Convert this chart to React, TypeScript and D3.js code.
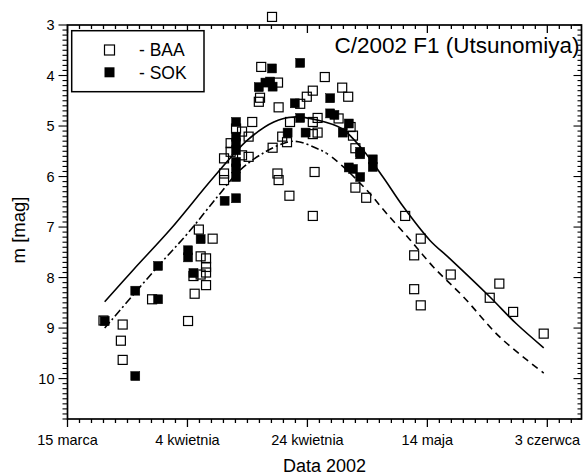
import React from 'react';
import * as d3 from 'd3';

// ---- data (day offset from 15 March 2002, magnitude) ----
const baaDays = [6.0, 9.2, 8.9, 9.2, 14.1, 20.1, 21.0, 21.2, 22.2, 22.2, 23.1, 23.1, 23.1, 23.1, 24.2, 21.9,
  26.1, 26.1, 26.1, 27.2, 27.2, 28.1, 29.1, 29.1, 30.2, 30.2, 30.8, 32.3, 32.1, 31.9, 35.1, 35.2, 34.1, 34.2,
  35.0, 35.2, 37.0, 37.1, 35.8, 36.6, 38.8, 39.9, 40.9, 42.9, 40.9, 41.7, 40.9, 41.7, 41.2, 40.9, 45.8, 46.8,
  45.2, 47.2, 47.6, 48.0, 48.0, 49.8, 56.3, 58.9, 57.8, 63.9, 57.8, 58.9, 72.0, 70.4, 74.3, 79.4];
const baaMags = [8.85, 8.93, 9.25, 9.63, 8.43, 8.86, 7.97, 8.32, 7.58, 7.94, 7.62, 7.79, 7.90, 8.15, 7.23, 7.05,
  5.94, 6.07, 5.64, 5.34, 5.51, 5.05, 5.11, 5.58, 5.21, 5.61, 4.92, 3.83, 4.44, 4.52, 4.14, 4.63, 2.84, 5.43,
  5.94, 6.07, 6.38, 4.92, 5.21, 5.32, 4.56, 4.42, 4.30, 4.03, 4.92, 4.84, 5.16, 5.13, 5.91, 6.78, 4.24, 4.42,
  4.85, 5.02, 5.19, 5.44, 6.22, 6.42, 6.78, 7.23, 7.56, 7.94, 8.23, 8.55, 8.12, 8.40, 8.68, 9.11];

const sokDays = [6.2, 11.3, 11.3, 15.1, 15.1, 20.1, 20.1, 21.0, 22.2, 26.2, 28.1, 28.1, 28.1, 28.1, 28.1, 28.1,
  28.1, 28.1, 31.9, 33.0, 33.8, 34.2, 34.1, 38.8, 37.9, 38.8, 36.7, 39.7, 43.8, 43.8, 44.5, 46.9, 45.9, 48.8,
  48.8, 50.9, 50.9, 46.9, 47.6, 48.8];
const sokMags = [8.86, 9.95, 8.26, 8.43, 7.77, 7.46, 7.60, 7.91, 7.24, 6.48, 6.43, 4.92, 5.21, 5.34, 5.48, 5.71,
  5.84, 6.01, 4.23, 4.14, 4.12, 4.22, 3.86, 3.75, 4.55, 4.84, 5.13, 5.13, 4.45, 4.75, 4.78, 4.95, 5.13, 5.51,
  5.56, 5.66, 5.81, 5.82, 5.85, 6.01];

const fitADays = [6.2, 11.1, 17.2, 24.4, 30.0, 34.4, 37.7, 41.6, 45.7, 49.3, 52.6, 56.0, 60.4, 63.7, 70.4, 74.8, 79.4];
const fitAMags = [8.48, 7.83, 7.04, 6.01, 5.28, 4.92, 4.82, 4.88, 5.05, 5.48, 6.01, 6.60, 7.26, 7.62, 8.38, 8.91, 9.39];

const fitBDays = [6.2, 15.0, 20.0, 25.0, 28.8, 33.0, 36.6, 38.5, 41.5, 43.2, 46.0, 49.9, 53.2, 57.1, 61.0, 66.0, 72.1, 79.4];
const fitBMags = [9.0, 7.79, 7.13, 6.40, 5.87, 5.51, 5.32, 5.31, 5.44, 5.54, 5.81, 6.27, 6.73, 7.25, 7.79, 8.38, 9.18, 9.89];
const fitBSplitDay = 43.2;

const xTickDays = [0, 20, 40, 60, 80];
const xTickLabels = ['15 marca', '4 kwietnia', '24 kwietnia', '14 maja', '3 czerwca'];
const yTickValues = [3, 4, 5, 6, 7, 8, 9, 10];

const title = 'C/2002 F1 (Utsunomiya)';
const legendLabels = ['- BAA', '- SOK'];

const W = 583, H = 475;
const L = 67.5, T = 25, R = 581.5, B = 419;
const FONT = 'Arial, "Liberation Sans", Helvetica, sans-serif';

export default function App() {
  const x = d3.scaleLinear().domain([0, 85.7]).range([L, R]);
  const y = d3.scaleLinear().domain([3, 10.8]).range([T, B]);
  const minorX = d3.range(0, 86, 2);
  const minorY = d3.range(30, 109).map((v) => v / 10);
  const line = d3
    .line<[number, number]>()
    .x((d) => x(d[0]))
    .y((d) => y(d[1]))
    .curve(d3.curveCatmullRom.alpha(0.5));
  const fitA = line(fitADays.map((d, i) => [d, fitAMags[i]] as [number, number])) || '';
  const fitB = line(fitBDays.map((d, i) => [d, fitBMags[i]] as [number, number])) || '';
  const baa = baaDays.map((d, i) => [d, baaMags[i]]);
  const sok = sokDays.map((d, i) => [d, sokMags[i]]);
  const s = 9;
  const splitX = x(fitBSplitDay);

  return (
    <svg width={W} height={H} style={{ position: 'absolute', left: 0, top: 0, background: '#fff' }} fontFamily={FONT}>
      <defs>
        <clipPath id="leftPart">
          <rect x={0} y={0} width={splitX} height={H} />
        </clipPath>
        <clipPath id="rightPart">
          <rect x={splitX} y={0} width={W - splitX} height={H} />
        </clipPath>
      </defs>
      <rect x={0} y={0} width={W} height={H} fill="#fff" />

      {/* bottom axis ticks (outward) */}
      {minorX.map((d) => (
        <line key={'bx' + d} x1={x(d)} x2={x(d)} y1={B} y2={B + (d % 20 === 0 ? 8 : 4)} stroke="#000" strokeWidth={1.3} />
      ))}
      {/* top axis ticks (inward) */}
      {minorX.map((d) => (
        <line key={'tx' + d} x1={x(d)} x2={x(d)} y1={T} y2={T + (d % 20 === 0 ? 8 : 4)} stroke="#000" strokeWidth={1.3} />
      ))}
      {/* left axis ticks (outward) */}
      {minorY.map((v) => (
        <line key={'ly' + v} x1={L} x2={L - (Math.abs(v - Math.round(v)) < 1e-6 ? 9 : 5)} y1={y(v)} y2={y(v)} stroke="#000" strokeWidth={1.1} />
      ))}
      {/* right axis ticks (pointing left) */}
      {minorY.map((v) => (
        <line key={'ry' + v} x1={R} x2={R - (Math.abs(v - Math.round(v)) < 1e-6 ? 8 : 4)} y1={y(v)} y2={y(v)} stroke="#000" strokeWidth={1.1} />
      ))}

      <rect x={L} y={T} width={R - L} height={B - T} fill="none" stroke="#000" strokeWidth={1.7} />

      {/* tick labels */}
      {xTickDays.map((d, i) => (
        <text key={'xl' + d} x={x(d)} y={445} textAnchor="middle" fontSize={14.5} fill="#000">
          {xTickLabels[i]}
        </text>
      ))}
      {yTickValues.map((v) => (
        <text key={'yl' + v} x={54.5} y={y(v)} dy="0.36em" textAnchor="end" fontSize={14.5} fill="#000">
          {v}
        </text>
      ))}

      {/* axis titles */}
      <text x={(L + R) / 2} y={472} textAnchor="middle" fontSize={18} fill="#000">Data 2002</text>
      <text transform={`translate(25,${230}) rotate(-90)`} textAnchor="middle" fontSize={18.5} fill="#000">m [mag]</text>

      {/* fits */}
      <path d={fitA} fill="none" stroke="#000" strokeWidth={1.6} />
      <path d={fitB} fill="none" stroke="#000" strokeWidth={1.6} strokeDasharray="8,3,2,3" clipPath="url(#leftPart)" />
      <path d={fitB} fill="none" stroke="#000" strokeWidth={1.6} strokeDasharray="7,5" clipPath="url(#rightPart)" />

      {/* points */}
      {baa.map((p, i) => (
        <rect key={'b' + i} x={x(p[0]) - s / 2} y={y(p[1]) - s / 2} width={s} height={s} fill="none" stroke="#000" strokeWidth={1.2} />
      ))}
      {sok.map((p, i) => (
        <rect key={'s' + i} x={x(p[0]) - s / 2} y={y(p[1]) - s / 2} width={s} height={s} fill="#000" stroke="#000" strokeWidth={0.5} />
      ))}

      {/* legend */}
      <rect x={71.7} y={30.7} width={132.3} height={61} fill="#fff" stroke="#000" strokeWidth={1.5} />
      <rect x={104.5} y={45} width={10} height={10} fill="none" stroke="#000" strokeWidth={1.2} />
      <rect x={104.5} y={67.3} width={10} height={10} fill="#000" />
      <text x={139} y={56} fontSize={17.5} fill="#000">{legendLabels[0]}</text>
      <text x={139} y={78.5} fontSize={17.5} fill="#000">{legendLabels[1]}</text>

      {/* title */}
      <text x={579.5} y={53.3} textAnchor="end" fontSize={22.5} fill="#000">{title}</text>
    </svg>
  );
}
